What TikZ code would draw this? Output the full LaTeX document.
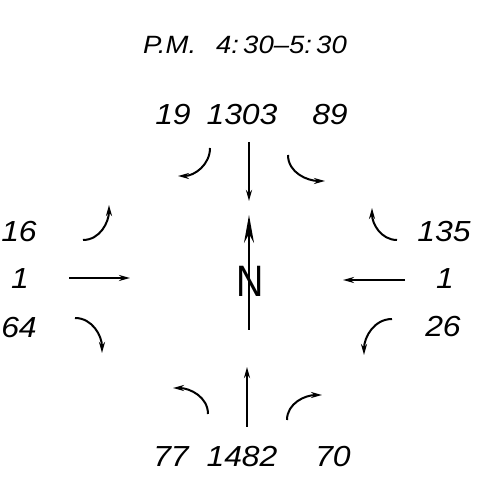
\documentclass[tikz,border=0pt]{standalone}
\usepackage{fontspec}
\setmainfont{Liberation Sans}[FakeStretch=1.1]
\usetikzlibrary{arrows.meta}
\begin{document}
\begin{tikzpicture}[x=1pt,y=1pt,
  lbl/.style={font=\fontsize{29}{29}\selectfont\itshape, inner sep=0pt},
  ttl/.style={font=\fontsize{25}{25}\selectfont\itshape, inner sep=0pt},
  mv/.style={line width=2pt, -{Stealth[length=11pt,width=6pt]}},
  north/.style={line width=2pt, -{Stealth[length=28pt,width=10pt]}}]
\useasboundingbox (0,0) rectangle (485,493);
% title
\node[ttl] (title) at (245,448) {P.M.\hspace{0.8em}4:\,30--5:\,30};
% labels
\node[lbl] (nl) at (173,378) {19};
\node[lbl] (nt) at (242,378) {1303};
\node[lbl] (nr) at (330,378) {89};
\node[lbl] (wl) at (19,261) {16};
\node[lbl] (wt) at (20,214) {1};
\node[lbl] (wr) at (19,165) {64};
\node[lbl] (el) at (444,261) {135};
\node[lbl] (et) at (445,214) {1};
\node[lbl] (er) at (443,166) {26};
\node[lbl] (sl) at (171,36) {77};
\node[lbl] (st) at (242,36) {1482};
\node[lbl] (sr) at (333,36) {70};
% coordinates
\coordinate (a1) at (210,345); \coordinate (b1) at (178,317);
\coordinate (a2) at (288,338); \coordinate (b2) at (325,312);
\coordinate (a3) at (249,351); \coordinate (b3) at (249,292);
\coordinate (a4) at (208,79);  \coordinate (b4) at (173,105);
\coordinate (a5) at (287,73);  \coordinate (b5) at (322,98);
\coordinate (a6) at (247,66);  \coordinate (b6) at (247,126);
\coordinate (a7) at (83,253);  \coordinate (b7) at (109,288);
\coordinate (a8) at (69,215);  \coordinate (b8) at (130,215);
\coordinate (a9) at (75,175);  \coordinate (b9) at (102,140);
\coordinate (a10) at (397,253); \coordinate (b10) at (372,285);
\coordinate (a11) at (405,213); \coordinate (b11) at (343,213);
\coordinate (a12) at (392,174); \coordinate (b12) at (364,138);
\coordinate (na) at (249,163); \coordinate (nb) at (249,278);
% movements
\draw[mv] (a1) to[out=-90,in=0] (b1);
\draw[mv] (a2) to[out=-90,in=180] (b2);
\draw[mv] (a3) -- (b3);
\draw[mv] (a4) to[out=90,in=0] (b4);
\draw[mv] (a5) to[out=90,in=180] (b5);
\draw[mv] (a6) -- (b6);
\draw[mv] (a7) to[out=0,in=-90] (b7);
\draw[mv] (a8) -- (b8);
\draw[mv] (a9) to[out=0,in=90] (b9);
\draw[mv] (a10) to[out=180,in=-90] (b10);
\draw[mv] (a11) -- (b11);
\draw[mv] (a12) to[out=180,in=90] (b12);
% north arrow
\draw[north] (na) -- (nb);
\node[inner sep=0pt, xscale=0.78, font=\fontsize{44}{44}\selectfont] (nlet) at (250.5,212) {N};
\end{tikzpicture}
\end{document}
